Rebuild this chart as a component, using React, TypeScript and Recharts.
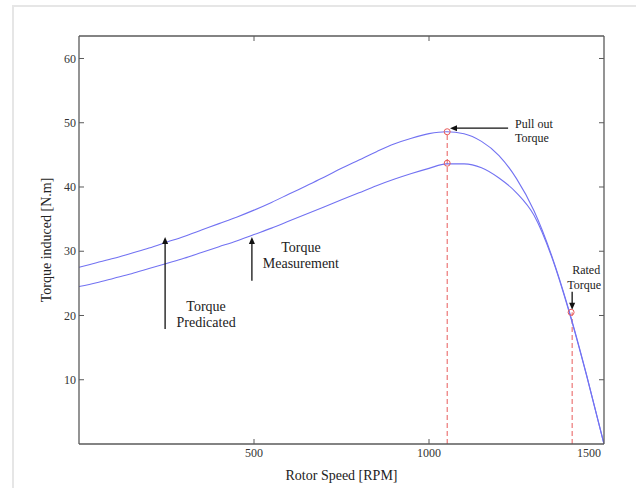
import React from 'react';
import { LineChart, Line, XAxis, YAxis, ReferenceLine, ReferenceDot } from 'recharts';

const rotorSpeed = [0, 50, 100, 150, 200, 250, 300, 350, 400, 450, 500, 550, 600, 650, 700, 750, 800, 850, 900, 950, 1000, 1050, 1100, 1150, 1200, 1250, 1300, 1350, 1400, 1450, 1500];
const torquePredicated = [27.5, 28.2, 28.9, 29.7, 30.5, 31.4, 32.3, 33.3, 34.3, 35.3, 36.4, 37.6, 38.9, 40.2, 41.5, 42.9, 44.2, 45.5, 46.7, 47.6, 48.3, 48.6, 48.3, 47.1, 44.9, 41.3, 36.3, 29.4, 20.8, 10.8, 0];
const torqueMeasurement = [24.5, 25.1, 25.8, 26.5, 27.3, 28.1, 28.9, 29.8, 30.7, 31.6, 32.6, 33.6, 34.7, 35.8, 36.9, 38.0, 39.1, 40.2, 41.2, 42.1, 42.9, 43.6, 43.6, 43.0, 41.4, 39.1, 35.6, 29.2, 20.6, 10.7, 0];

const xTicks = [500, 1000, 1500];
const yTicks = [10, 20, 30, 40, 50, 60];
const xDomain = [0, 1500];
const yDomain = [0, 63.5];

const pullOutSpeed = 1052;
const pullOutPredicated = 48.6;
const pullOutMeasurement = 43.7;
const ratedSpeed = 1406;
const ratedTorque = 20.5;

// annotation arrows: [speed, tail torque] -> [speed, tip torque]
const arrowPredicated = { x1: 246, y1: 17.9, x2: 246, y2: 32.2 };
const arrowMeasurement = { x1: 494, y1: 25.4, x2: 494, y2: 32.2 };
const arrowPullOut = { x1: 1226, y1: 49.15, x2: 1060, y2: 49.15 };
const arrowRated = { x1: 1409, y1: 23.7, x2: 1409, y2: 20.9 };

const data = rotorSpeed.map((s, i) => ({ rpm: s, predicated: torquePredicated[i], measurement: torqueMeasurement[i] }));

const FONT = '"Liberation Serif", "Times New Roman", serif';
const AXIS = '#5a5a5a';
const BLUE = '#7272f2';
const RED = '#e85a5a';

const LeftTick = (p: any) => {
  const { x, y, payload } = p;
  return (
    <g>
      <line x1={x + 3} x2={x + 8} y1={y} y2={y} stroke={AXIS} strokeWidth={1} />
      <text x={x} y={y} dy="0.35em" textAnchor="end" fontFamily={FONT} fontSize={12} fill="#333">{payload.value}</text>
    </g>
  );
};
const RightTick = (p: any) => {
  const { x, y } = p;
  return <line x1={x} x2={x - 5} y1={y} y2={y} stroke={AXIS} strokeWidth={1} />;
};
const BottomTick = (p: any) => {
  const { x, y, payload } = p;
  const isLast = payload.value === 1500;
  return (
    <g>
      {!isLast && <line x1={x} x2={x} y1={y - 4} y2={y - 9} stroke={AXIS} strokeWidth={1} />}
      <text x={isLast ? x - 15 : x} y={y} dy="0.71em" textAnchor="middle" fontFamily={FONT} fontSize={12} fill="#333">{payload.value}</text>
    </g>
  );
};
const TopTick = (p: any) => {
  const { x, y } = p;
  return <line x1={x} x2={x} y1={y} y2={y + 5} stroke={AXIS} strokeWidth={1} />;
};

const arrowHead = (x1: number, y1: number, x2: number, y2: number) => {
  const len = Math.hypot(x2 - x1, y2 - y1) || 1;
  const ux = (x2 - x1) / len, uy = (y2 - y1) / len;
  const hl = 7, hw = 3;
  const bx = x2 - ux * hl, by = y2 - uy * hl;
  return `${x2},${y2} ${bx - uy * hw},${by + ux * hw} ${bx + uy * hw},${by - ux * hw}`;
};

type Txt = { text: string; dx: number; dy: number; anchor: string; size: number };
const makeArrow = (texts: Txt[]) => (p: any) => {
  const { x1, y1, x2, y2 } = p;
  const hl = 6;
  const len = Math.hypot(x2 - x1, y2 - y1) || 1;
  const sx = x2 - ((x2 - x1) / len) * hl, sy = y2 - ((y2 - y1) / len) * hl;
  return (
    <g>
      <line x1={x1} y1={y1} x2={sx} y2={sy} stroke="#111" strokeWidth={1.3} />
      <polygon points={arrowHead(x1, y1, x2, y2)} fill="#111" />
      {texts.map((t, i) => (
        <text key={i} x={x1 + t.dx} y={y1 + t.dy} textAnchor={t.anchor} fontFamily={FONT} fontSize={t.size} fill="#222">{t.text}</text>
      ))}
    </g>
  );
};

const shapePredicated = makeArrow([
  { text: 'Torque', dx: 41, dy: -18, anchor: 'middle', size: 14 },
  { text: 'Predicated', dx: 41, dy: -1.5, anchor: 'middle', size: 14 },
]);
const shapeMeasurement = makeArrow([
  { text: 'Torque', dx: 49, dy: -29, anchor: 'middle', size: 14 },
  { text: 'Measurement', dx: 49, dy: -13, anchor: 'middle', size: 14 },
]);
const shapePullOut = makeArrow([
  { text: 'Pull out', dx: 7, dy: 0, anchor: 'start', size: 12 },
  { text: 'Torque', dx: 7, dy: 14, anchor: 'start', size: 12 },
]);
const shapeRated = makeArrow([
  { text: 'Rated', dx: 14, dy: -18, anchor: 'middle', size: 12 },
  { text: 'Torque', dx: 12, dy: -3, anchor: 'middle', size: 12 },
]);

export default function App() {
  return (
    <div style={{ position: 'absolute', left: 0, top: 0, width: 636, height: 488, background: '#fff', overflow: 'hidden' }}>
      <div style={{ position: 'absolute', left: 12, top: 5, width: 660, height: 520, border: '2px solid #e6e6e6', boxSizing: 'border-box' }} />
      <div style={{ position: 'absolute', left: 0, top: 0 }}>
        <LineChart width={636} height={488} data={data} margin={{ top: 31, right: 27, bottom: 14, left: 13 }}>
          <XAxis xAxisId="b" dataKey="rpm" type="number" domain={xDomain} ticks={xTicks} orientation="bottom" height={30}
            tickSize={0} tickMargin={4} tick={<BottomTick />} axisLine={{ stroke: AXIS, strokeWidth: 1.3 }} allowDataOverflow
            label={{ value: 'Rotor Speed [RPM]', position: 'insideBottom', offset: -6, style: { fontFamily: FONT, fontSize: 14, fill: '#222' } }} />
          <XAxis xAxisId="t" dataKey="rpm" type="number" domain={xDomain} ticks={[500, 1000]} orientation="top" height={5}
            tickSize={0} tickMargin={0} tick={<TopTick />} axisLine={{ stroke: AXIS, strokeWidth: 1.3 }} allowDataOverflow />
          <YAxis yAxisId="l" type="number" domain={yDomain} ticks={yTicks} width={66} tickSize={0} tickMargin={3}
            tick={<LeftTick />} axisLine={{ stroke: AXIS, strokeWidth: 1.3 }} allowDataOverflow
            label={{ value: 'Torque induced [N.m]', angle: -90, position: 'center', style: { fontFamily: FONT, fontSize: 14, fill: '#222', textAnchor: 'middle' } }} />
          <YAxis yAxisId="r" orientation="right" type="number" domain={yDomain} ticks={yTicks} width={5} tickSize={0} tickMargin={0}
            tick={<RightTick />} axisLine={{ stroke: AXIS, strokeWidth: 1.3 }} allowDataOverflow />

          <ReferenceLine xAxisId="b" yAxisId="l" segment={[{ x: pullOutSpeed, y: 0 }, { x: pullOutSpeed, y: pullOutPredicated }]} stroke={RED} strokeDasharray="5 3" strokeWidth={1} />
          <ReferenceLine xAxisId="b" yAxisId="l" segment={[{ x: ratedSpeed + 3, y: 0 }, { x: ratedSpeed + 3, y: ratedTorque }]} stroke={RED} strokeDasharray="5 3" strokeWidth={1} />

          <Line xAxisId="b" yAxisId="l" type="monotone" dataKey="predicated" stroke={BLUE} strokeWidth={1.1} dot={false} isAnimationActive={false} />
          <Line xAxisId="b" yAxisId="l" type="monotone" dataKey="measurement" stroke={BLUE} strokeWidth={1.1} dot={false} isAnimationActive={false} />

          <ReferenceDot xAxisId="b" yAxisId="l" x={pullOutSpeed} y={pullOutPredicated} r={3} fill="none" stroke={RED} strokeWidth={1} />
          <ReferenceDot xAxisId="b" yAxisId="l" x={pullOutSpeed} y={pullOutMeasurement} r={3} fill="none" stroke={RED} strokeWidth={1} />
          <ReferenceDot xAxisId="b" yAxisId="l" x={ratedSpeed} y={ratedTorque} r={3} fill="none" stroke={RED} strokeWidth={1} />

          <ReferenceLine xAxisId="b" yAxisId="l" segment={[{ x: arrowPredicated.x1, y: arrowPredicated.y1 }, { x: arrowPredicated.x2, y: arrowPredicated.y2 }]} shape={shapePredicated} />
          <ReferenceLine xAxisId="b" yAxisId="l" segment={[{ x: arrowMeasurement.x1, y: arrowMeasurement.y1 }, { x: arrowMeasurement.x2, y: arrowMeasurement.y2 }]} shape={shapeMeasurement} />
          <ReferenceLine xAxisId="b" yAxisId="l" segment={[{ x: arrowPullOut.x1, y: arrowPullOut.y1 }, { x: arrowPullOut.x2, y: arrowPullOut.y2 }]} shape={shapePullOut} />
          <ReferenceLine xAxisId="b" yAxisId="l" segment={[{ x: arrowRated.x1, y: arrowRated.y1 }, { x: arrowRated.x2, y: arrowRated.y2 }]} shape={shapeRated} />
        </LineChart>
      </div>
    </div>
  );
}
